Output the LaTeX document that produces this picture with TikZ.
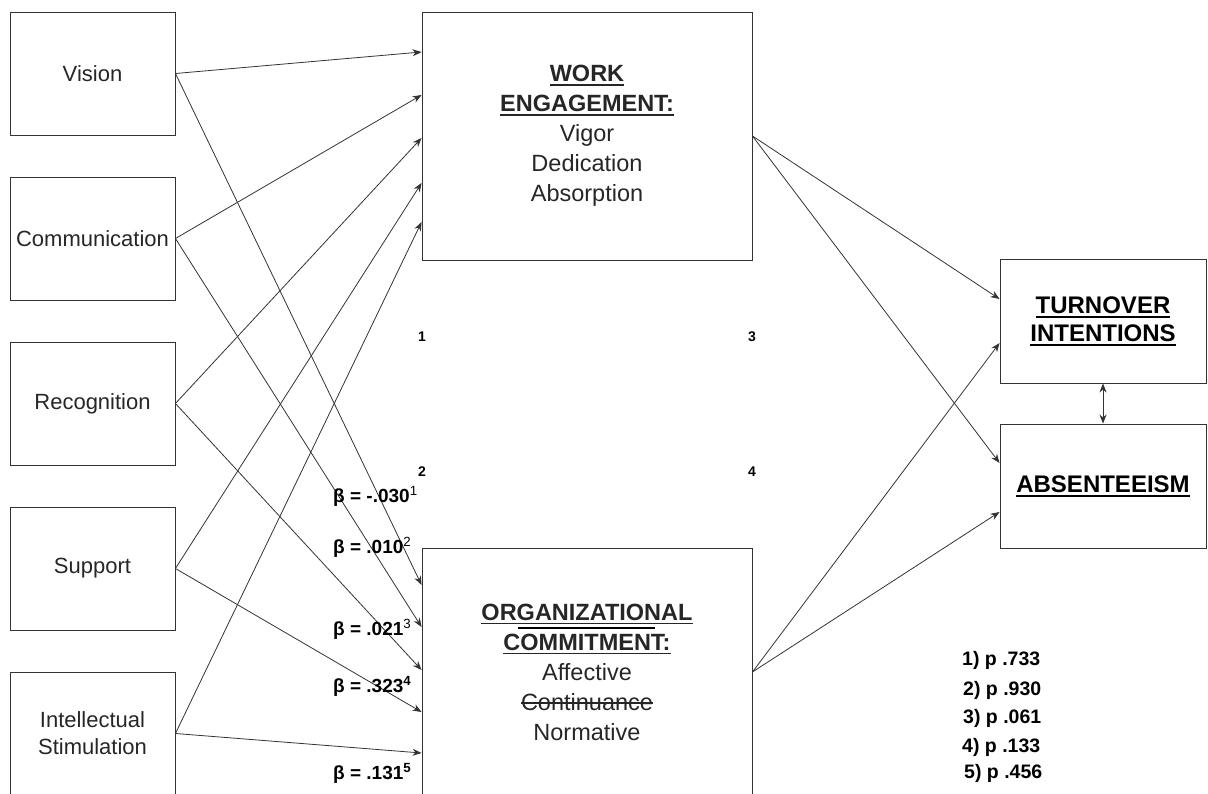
\documentclass[tikz,border=0pt]{standalone}
\usepackage{fontspec}
\setmainfont{Liberation Sans}
\usetikzlibrary{arrows.meta, positioning}

\newsavebox{\markbox}
\newcommand{\ulword}[1]{\sbox{\markbox}{#1}\rlap{\usebox{\markbox}}\rule[-4.3pt]{\wd\markbox}{1.8pt}}
\newcommand{\strikeword}[1]{\sbox{\markbox}{#1}\rlap{\usebox{\markbox}}\rule[6.3pt]{\wd\markbox}{1.3pt}}

\begin{document}
\begin{tikzpicture}[x=1pt, y=-1pt,
    lead/.style={draw=black!80, line width=0.9pt, minimum width=165pt, minimum height=123pt,
      align=center, text=black!85, font=\fontsize{22}{27}\selectfont},
    outcome/.style={draw=black!80, line width=0.9pt, minimum width=330pt, minimum height=248pt,
      align=center, text=black!85, font=\fontsize{23.5}{30}\selectfont},
    result/.style={draw=black!80, line width=0.9pt, minimum width=206pt, minimum height=124pt,
      align=center, font=\bfseries\fontsize{24}{28}\selectfont},
    link/.style={draw=black!80, line width=0.8pt, -{Stealth[length=9pt,width=7pt]}},
    tag/.style={inner sep=0pt, font=\bfseries\fontsize{14}{16}\selectfont},
    beta/.style={anchor=base west, inner sep=0pt, font=\bfseries\fontsize{19}{22}\selectfont},
    pval/.style={anchor=base west, inner sep=0pt, font=\bfseries\fontsize{19.5}{22}\selectfont}]
  \useasboundingbox (0,0) rectangle (1208,794);

  % Leadership behaviours
  \node[lead] (vis) at (92.5,73.5) {Vision};
  \node[lead] (com) at (92.5,238.5) {Communication};
  \node[lead] (rec) at (92.5,403.5) {Recognition};
  \node[lead] (sup) at (92.5,568.5) {Support};
  \node[lead] (int) at (92.5,733.5) {Intellectual\\Stimulation};

  % Mediators
  \node[outcome] (we) at (587,136)
    {\textbf{\ulword{WORK}}\\\textbf{\ulword{ENGAGEMENT:}}\\Vigor\\Dedication\\Absorption};
  \node[outcome] (oc) at (587,672)
    {\textbf{\ulword{ORGANIZATIONAL}}\\\textbf{\ulword{COMMITMENT:}}\\Affective\\
     \strikeword{Continuance}\\Normative};
  \draw[line width=1.5pt] ([xshift=-69pt,yshift=44pt]oc.center) -- ([xshift=68pt,yshift=44pt]oc.center);

  % Outcomes
  \node[result] (ti) at (1103,321) {\ulword{TURNOVER}\\\ulword{INTENTIONS}};
  \node[result] (ab) at (1103,486) {\ulword{ABSENTEEISM}};

  \foreach \src/\dy in {vis/84, com/41, rec/-2, sup/-47, int/-86}
    \draw[link] (\src.east) -- ([yshift=\dy pt]we.west);
  \foreach \src/\dy in {vis/87, com/45, rec/2, sup/-40, int/-81}
    \draw[link] (\src.east) -- ([yshift=\dy pt]oc.west);

  \draw[link] (we.east) -- ([yshift=22pt]ti.west);
  \draw[link] (we.east) -- ([yshift=23pt]ab.west);
  \draw[link] (oc.east) -- ([yshift=-22pt]ti.west);
  \draw[link] (oc.east) -- ([yshift=-26pt]ab.west);
  \draw[link, {Stealth[length=9pt,width=7pt]}-{Stealth[length=9pt,width=7pt]}] (ti.south) -- (ab.north);

  % path numbers
  \node[tag] (n1) at (422,337) {1};
  \node[tag] (n2) at (422,472) {2};
  \node[tag] (n3) at (752,337) {3};
  \node[tag] (n4) at (752,472) {4};

  % coefficients
  \node[beta] (b1) at (333,502) {β = -.030\textsuperscript{\mdseries 1}};
  \node[beta] (b2) at (333,553) {β = .010\textsuperscript{\mdseries 2}};
  \node[beta] (b3) at (333,635) {β = .021\textsuperscript{\mdseries 3}};
  \node[beta] (b4) at (333,692) {β = .323\textsuperscript{4}};
  \node[beta] (b5) at (333,779) {β = .131\textsuperscript{5}};

  \node[pval] (p1) at (962,665) {1) p .733};
  \node[pval] (p2) at (963,695) {2) p .930};
  \node[pval] (p3) at (963,723) {3) p .061};
  \node[pval] (p4) at (962,752) {4) p .133};
  \node[pval] (p5) at (964,778) {5) p .456};
\end{tikzpicture}
\end{document}
